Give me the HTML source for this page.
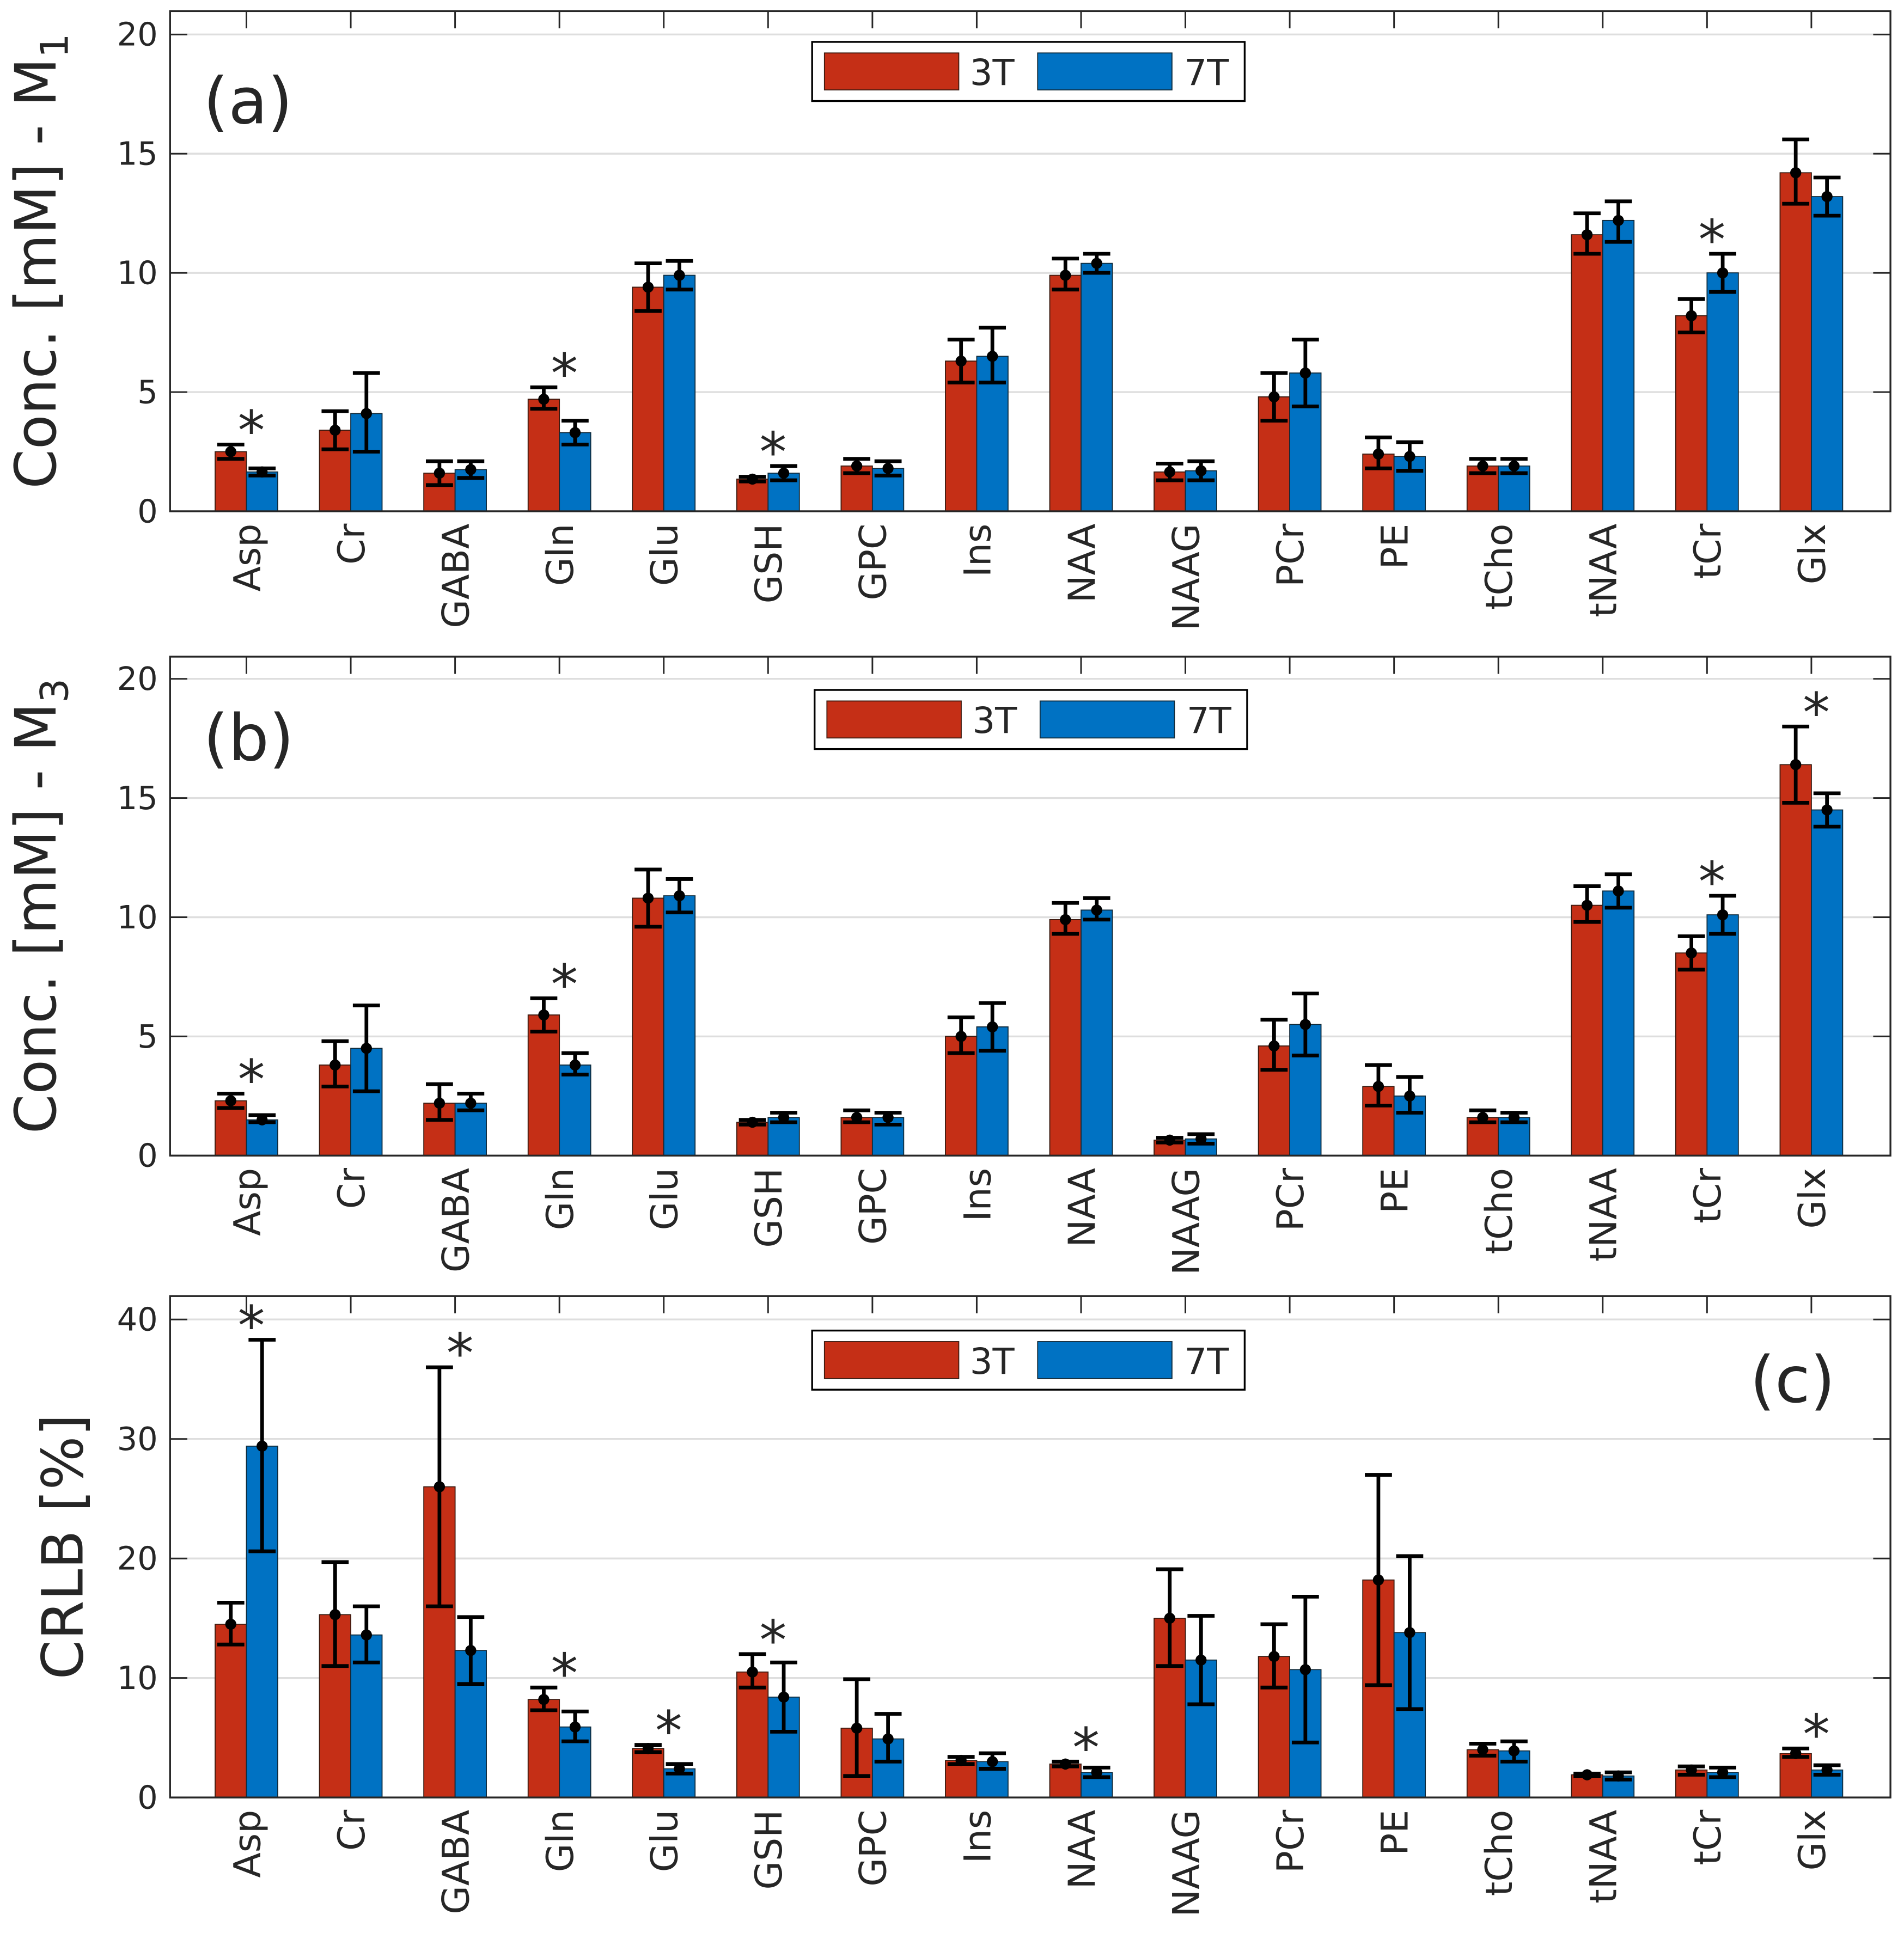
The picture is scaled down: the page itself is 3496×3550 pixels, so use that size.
<!DOCTYPE html>
<html><head><meta charset="utf-8"><style>
html,body{margin:0;padding:0;background:#fff;}
svg{display:block;}
text{font-family:"DejaVu Sans","Liberation Sans",sans-serif;fill:#262626;}
</style></head><body>
<svg id="chart" xmlns="http://www.w3.org/2000/svg" width="3496" height="3550" viewBox="0 0 1545 1569" preserveAspectRatio="none"></svg>
<script>
const categories=["Asp","Cr","GABA","Gln","Glu","GSH","GPC","Ins","NAA","NAAG","PCr","PE","tCho","tNAA","tCr","Glx"];
// panel a
const a3T=[2.5,3.4,1.6,4.7,9.4,1.35,1.9,6.3,9.9,1.65,4.8,2.4,1.9,11.6,8.2,14.2];
const a3Tlo=[2.2,2.6,1.1,4.3,8.4,1.25,1.6,5.4,9.3,1.3,3.8,1.8,1.6,10.8,7.5,12.9];
const a3Thi=[2.8,4.2,2.1,5.2,10.4,1.45,2.2,7.2,10.6,2.0,5.8,3.1,2.2,12.5,8.9,15.6];
const a7T=[1.65,4.1,1.75,3.3,9.9,1.6,1.8,6.5,10.4,1.7,5.8,2.3,1.9,12.2,10.0,13.2];
const a7Tlo=[1.5,2.5,1.4,2.8,9.3,1.3,1.5,5.4,10.0,1.3,4.4,1.7,1.6,11.3,9.2,12.4];
const a7Thi=[1.8,5.8,2.1,3.8,10.5,1.9,2.1,7.7,10.8,2.1,7.2,2.9,2.2,13.0,10.8,14.0];
const aStars=[0,3,5,14];
// panel b
const b3T=[2.3,3.8,2.2,5.9,10.8,1.4,1.6,5.0,9.9,0.65,4.6,2.9,1.6,10.5,8.5,16.4];
const b3Tlo=[2.0,2.9,1.5,5.2,9.6,1.3,1.4,4.3,9.3,0.55,3.6,2.1,1.4,9.8,7.8,14.8];
const b3Thi=[2.6,4.8,3.0,6.6,12.0,1.5,1.9,5.8,10.6,0.75,5.7,3.8,1.9,11.3,9.2,18.0];
const b7T=[1.5,4.5,2.2,3.8,10.9,1.6,1.6,5.4,10.3,0.7,5.5,2.5,1.6,11.1,10.1,14.5];
const b7Tlo=[1.4,2.7,1.9,3.4,10.2,1.4,1.3,4.4,9.9,0.5,4.2,1.8,1.4,10.4,9.3,13.8];
const b7Thi=[1.7,6.3,2.6,4.3,11.6,1.8,1.8,6.4,10.8,0.9,6.8,3.3,1.8,11.8,10.9,15.2];
const bStars=[0,3,14,15];
// panel c
const c3T=[14.5,15.3,26,8.2,4.1,10.5,5.8,3.1,2.8,15,11.8,18.2,4.0,1.9,2.3,3.7];
const c3Tlo=[12.8,11,16,7.3,3.8,9.2,1.8,2.8,2.6,11,9.2,9.4,3.5,1.8,1.9,3.4];
const c3Thi=[16.3,19.7,36,9.2,4.4,12.0,9.9,3.4,3.0,19.1,14.5,27,4.5,2.0,2.6,4.1];
const c7T=[29.4,13.6,12.3,5.9,2.4,8.4,4.9,3.0,2.1,11.5,10.7,13.8,3.9,1.8,2.1,2.3];
const c7Tlo=[20.6,11.3,9.5,4.7,2.0,5.5,3.0,2.4,1.7,7.8,4.6,7.4,3.0,1.5,1.7,1.9];
const c7Thi=[38.3,16.0,15.1,7.2,2.8,11.3,7.0,3.7,2.5,15.2,16.8,20.2,4.7,2.1,2.5,2.7];
const cStars=[0,2,3,4,5,8,15];
const yTicksConc=[0,5,10,15,20];
const yTicksCrlb=[0,10,20,30,40];

const NS="http://www.w3.org/2000/svg";
const svg=document.getElementById('chart');
function mk(tag,attrs,parent,txt){const e=document.createElementNS(NS,tag);for(const k in attrs)e.setAttribute(k,attrs[k]);if(txt!==undefined)e.textContent=txt;(parent||svg).appendChild(e);return e;}
const X0=138,X1=1534;
const XL=0.268, XSPAN=16.49;
function xS(i){return X0+(i+1-XL)*(X1-X0)/XSPAN;}
const step=(X1-X0)/XSPAN, bw=step*0.3;

function panel(p){
  const g=mk('g',{});
  
  
  const yS=v=>p.y0-(v/p.ymax)*(p.y0-p.ytopTick);
  p.ticks.forEach(t=>{
    const gl=mk('line',{x1:X0,x2:X1,y1:yS(t),y2:yS(t),stroke:'#dedede','stroke-width':1.5},g);
    
    mk('line',{x1:X0,x2:X0+14,y1:yS(t),y2:yS(t),stroke:'#262626','stroke-width':1.3},g);
    mk('line',{x1:X1-14,x2:X1,y1:yS(t),y2:yS(t),stroke:'#262626','stroke-width':1.3},g);
    const tl=mk('text',{x:X0-10,y:yS(t)+9,'text-anchor':'end','font-size':26},g,String(t));
    
  });
  categories.forEach((c,i)=>{
    const x=xS(i);
    mk('line',{x1:x,x2:x,y1:p.top,y2:p.top+14,stroke:'#262626','stroke-width':1.3},g);
    const r=mk('rect',{x:x-bw,y:yS(p.v3[i]),width:bw,height:p.y0-yS(p.v3[i]),fill:'#c52f16',stroke:'#3a1a10','stroke-width':0.8},g);
    
    const b=mk('rect',{x:x,y:yS(p.v7[i]),width:bw,height:p.y0-yS(p.v7[i]),fill:'#0072c3',stroke:'#102a3a','stroke-width':0.8},g);
    
    [[x-bw/2,p.v3[i],p.lo3[i],p.hi3[i]],[x+bw/2,p.v7[i],p.lo7[i],p.hi7[i]]].forEach(([cx,v,lo,hi])=>{
      const eg=mk('g',{stroke:'#000','stroke-width':3},g);
      
      mk('line',{x1:cx,x2:cx,y1:yS(lo),y2:yS(hi)},eg);
      mk('line',{x1:cx-11,x2:cx+11,y1:yS(lo),y2:yS(lo)},eg);
      mk('line',{x1:cx-11,x2:cx+11,y1:yS(hi),y2:yS(hi)},eg);
      mk('circle',{cx:cx,cy:yS(v),r:4.5,fill:'#000',stroke:'none'},eg);
    });
    const lab=mk('text',{x:0,y:0,'text-anchor':'end','font-size':30,transform:`translate(${x+11},${p.y0+10}) rotate(-90)`},g,c);
    
  });
  p.stars.forEach(i=>{
    const top=Math.max(p.hi3[i],p.hi7[i]);
    const s=mk('text',{x:xS(i)+4,y:yS(top)-20+24,'text-anchor':'middle','font-size':44,fill:'#000'},g,'*');
    
  });
  const ax=mk('rect',{x:X0,y:p.top,width:X1-X0,height:p.y0-p.top,fill:'none',stroke:'#262626','stroke-width':1.5},g);
  
  const lg=mk('g',{},g);
  
  const ly=p.legY;
  mk('rect',{x:p.legX,y:ly,width:351,height:48,fill:'#fff',stroke:'#000','stroke-width':1.5},lg);
  mk('rect',{x:p.legX+10,y:ly+9,width:109,height:30,fill:'#c52f16',stroke:'#3a1a10','stroke-width':0.8},lg);
  mk('text',{x:p.legX+128,y:ly+35,'font-size':29},lg,'3T');
  mk('rect',{x:p.legX+183,y:ly+9,width:109,height:30,fill:'#0072c3',stroke:'#102a3a','stroke-width':0.8},lg);
  mk('text',{x:p.legX+302,y:ly+35,'font-size':29},lg,'7T');
  const pl=mk('text',{x:p.labX,y:p.labY,'font-size':52,fill:'#000'},g,p.label);
  
  const yt=mk('text',{x:0,y:0,'text-anchor':'middle','font-size':46,transform:`translate(${p.titleX},${(p.top+p.y0)/2}) rotate(-90)`},g);
  
  if(p.sub){yt.textContent=p.title;mk('tspan',{'font-size':31,dy:10},yt,p.sub);}
  else yt.textContent=p.title;
}
panel({id:'a',top:9,y0:415,ytopTick:28,ymax:20,ticks:yTicksConc,v3:a3T,lo3:a3Tlo,hi3:a3Thi,v7:a7T,lo7:a7Tlo,hi7:a7Thi,stars:aStars,legX:659,legY:34,label:'(a)',labX:165,labY:100,title:'Conc. [mM] - M',sub:'1',titleX:45});
panel({id:'b',top:533,y0:938,ytopTick:551,ymax:20,ticks:yTicksConc,v3:b3T,lo3:b3Tlo,hi3:b3Thi,v7:b7T,lo7:b7Tlo,hi7:b7Thi,stars:bStars,legX:661,legY:560,label:'(b)',labX:165,labY:617,title:'Conc. [mM] - M',sub:'3',titleX:45});
panel({id:'c',top:1052,y0:1459,ytopTick:1071,ymax:40,ticks:yTicksCrlb,v3:c3T,lo3:c3Tlo,hi3:c3Thi,v7:c7T,lo7:c7Tlo,hi7:c7Thi,stars:cStars,legX:659,legY:1080,label:'(c)',labX:1420,labY:1138,title:'CRLB [%]',sub:null,titleX:67});
</script>
</body></html>
